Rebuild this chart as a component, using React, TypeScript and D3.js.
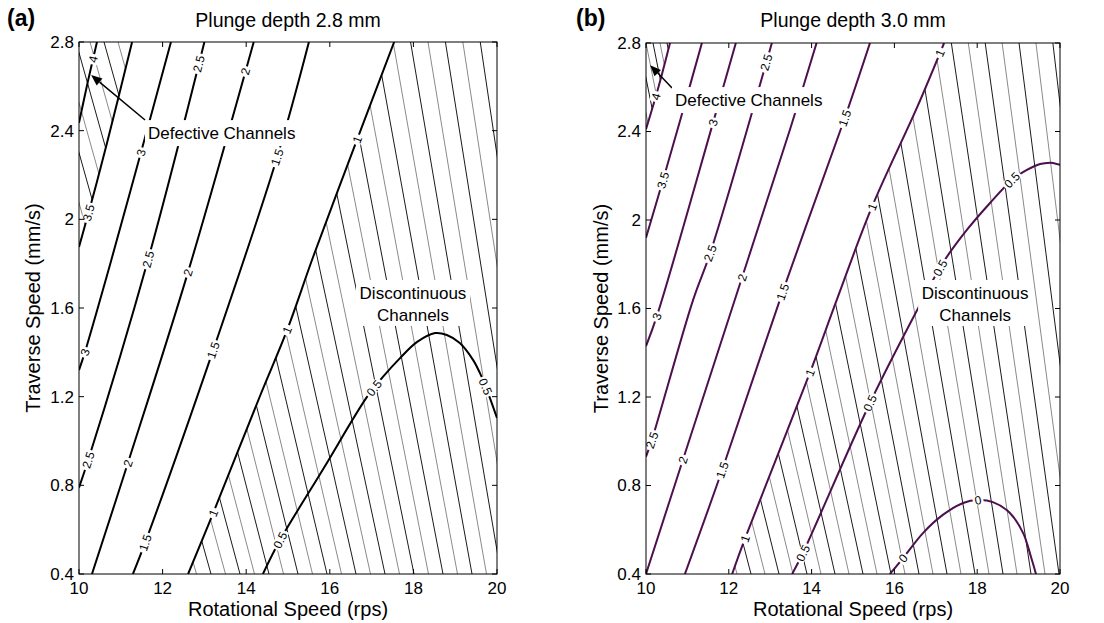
import React from "react";
import * as d3 from "d3";

type Pt = [number, number];
type Lab = [number, number, number];

// ---------- shared axis data ----------
const xTicks = [10, 12, 14, 16, 18, 20];
const xTickLabels = ["10", "12", "14", "16", "18", "20"];
const yTicks = [0.4, 0.8, 1.2, 1.6, 2, 2.4, 2.8];
const yTickLabels = ["0.4", "0.8", "1.2", "1.6", "2", "2.4", "2.8"];

// ---------- (a) Plunge depth 2.8 mm : contour lines [rps, mm/s] ----------
const a_c4: Pt[] = [[10, 2.435], [10.21, 2.62], [10.43, 2.8]];
const a_c35: Pt[] = [[10, 1.875], [10.33, 2.1], [10.67, 2.344], [11.27, 2.8]];
const a_c3: Pt[] = [[10, 1.32], [10.14, 1.4], [10.74, 1.794], [11.48, 2.3], [12.2, 2.8]];
const a_c25: Pt[] = [[10, 0.79], [10.22, 0.914], [11.65, 1.817], [13.0, 2.8]];
const a_c2: Pt[] = [[10.31, 0.4], [11.17, 0.901], [12.61, 1.763], [14.18, 2.8]];
const a_c15: Pt[] = [[11.29, 0.4], [11.58, 0.54], [13.21, 1.41], [14.74, 2.28], [15.5, 2.8]];
const a_c1: Pt[] = [[12.61, 0.4], [13.21, 0.675], [14.33, 1.203], [14.98, 1.501], [15.6, 1.83], [16.65, 2.358], [17.54, 2.8]];
const a_c05: Pt[] = [[14.4, 0.4], [14.81, 0.553], [15.85, 0.876], [16.89, 1.199], [17.27, 1.289], [17.68, 1.374], [18.09, 1.447], [18.52, 1.487], [18.8, 1.478], [19.11, 1.442], [19.43, 1.365], [19.59, 1.307], [19.76, 1.23], [20, 1.104]];
const a_levels = [4, 3.5, 3, 2.5, 2, 1.5, 1, 0.5];
const a_lines = [a_c4, a_c35, a_c3, a_c25, a_c2, a_c15, a_c1, a_c05];
// contour labels [level, rps, mm/s]
const a_labels: Lab[] = [
  [4, 10.38, 2.72], [3.5, 10.22, 2.03], [3, 11.5, 2.3], [3, 10.14, 1.4],
  [2.5, 12.9, 2.7], [2.5, 11.65, 1.82], [2.5, 10.22, 0.914],
  [2, 14.02, 2.665], [2, 12.61, 1.76], [2, 11.17, 0.9],
  [1.5, 14.74, 2.28], [1.5, 13.21, 1.41], [1.5, 11.6, 0.54],
  [1, 16.65, 2.36], [1, 14.98, 1.5], [1, 13.21, 0.675],
  [0.5, 14.81, 0.553], [0.5, 17.03, 1.244], [0.5, 19.71, 1.244],
];

// ---------- (b) Plunge depth 3.0 mm ----------
const b_c4: Pt[] = [[10, 2.41], [10.3, 2.6], [10.58, 2.8]];
const b_c35: Pt[] = [[10, 1.92], [10.41, 2.18], [10.87, 2.48], [11.35, 2.8]];
const b_c3: Pt[] = [[10, 1.43], [10.27, 1.57], [11.62, 2.44], [12.17, 2.8]];
const b_c25: Pt[] = [[10, 0.93], [10.14, 1.005], [11.14, 1.64], [11.55, 1.85], [13.04, 2.8]];
const b_c2: Pt[] = [[10, 0.4], [10.89, 0.915], [12.32, 1.74], [13.48, 2.41], [14.12, 2.8]];
const b_c15: Pt[] = [[10.94, 0.4], [11.84, 0.87], [13.3, 1.675], [14.8, 2.46], [15.41, 2.8]];
const b_c1: Pt[] = [[12.08, 0.4], [12.39, 0.56], [13.96, 1.31], [14.61, 1.64], [15.46, 2.06], [16.55, 2.51], [17.2, 2.8]];
const b_c05: Pt[] = [[13.53, 0.4], [13.79, 0.495], [15.41, 1.173], [16.57, 1.6], [17.17, 1.806], [17.75, 1.955], [18.31, 2.077], [18.84, 2.181], [19.2, 2.226], [19.52, 2.253], [19.69, 2.258], [19.83, 2.258], [20, 2.249]];
const b_c0: Pt[] = [[15.89, 0.4], [16.21, 0.472], [16.69, 0.585], [17.17, 0.667], [17.66, 0.721], [18.02, 0.734], [18.38, 0.725], [18.79, 0.676], [19.11, 0.585], [19.3, 0.477], [19.42, 0.4]];
const b_levels = [4, 3.5, 3, 2.5, 2, 1.5, 1, 0.5, 0];
const b_lines = [b_c4, b_c35, b_c3, b_c25, b_c2, b_c15, b_c1, b_c05, b_c0];
const b_labels: Lab[] = [
  [4, 10.27, 2.556], [3.5, 10.41, 2.18], [3, 11.62, 2.44], [3, 10.17, 1.57],
  [2.5, 12.95, 2.71], [2.5, 11.55, 1.85], [2.5, 10.14, 1.005],
  [2, 12.32, 1.74], [2, 10.89, 0.915],
  [1.5, 14.8, 2.46], [1.5, 13.3, 1.675], [1.5, 11.84, 0.87],
  [1, 17.1, 2.755], [1, 15.46, 2.06], [1, 13.96, 1.31], [1, 12.39, 0.56],
  [0.5, 17.2, 1.774], [0.5, 18.84, 2.18], [0.5, 15.41, 1.173], [0.5, 13.79, 0.495],
  [0, 16.21, 0.472], [0, 18.02, 0.734],
];

const FONT = "'Liberation Sans', Arial, Helvetica, sans-serif";

function textW(s: string, fs: number) {
  let w = 0;
  for (const c of s) w += (c === "." ? 0.278 : 0.556) * fs;
  return w;
}

function snap(pts: Pt[], lx: number, ly: number) {
  let best = { d: Infinity, x: lx, y: ly, ang: 0 };
  for (let i = 0; i < pts.length - 1; i++) {
    const [ax, ay] = pts[i];
    const [bx, by] = pts[i + 1];
    const dx = bx - ax, dy = by - ay;
    const L2 = dx * dx + dy * dy || 1;
    let t = ((lx - ax) * dx + (ly - ay) * dy) / L2;
    t = Math.max(0, Math.min(1, t));
    const px = ax + t * dx, py = ay + t * dy;
    const d = Math.hypot(px - lx, py - ly);
    if (d < best.d) {
      let ang = (Math.atan2(dy, dx) * 180) / Math.PI;
      if (ang > 90) ang -= 180;
      if (ang < -90) ang += 180;
      best = { d, x: px, y: py, ang };
    }
  }
  return best;
}

// hatch family: lines anchored on top ("t") or bottom ("b") edge
type Hatch = { ref: "t" | "b"; x0: number; step: number; slope: number; dSlope: number };

type PanelProps = {
  id: string;
  px: [number, number];
  py: [number, number];
  title: string;
  tag: string;
  tagX: number;
  lines: Pt[][];
  levels: number[];
  labels: Lab[];
  color: string;
  defectLine: Pt[];
  discLine: Pt[];
  defHatch: Hatch;
  discHatch: Hatch;
  yLabelX: number;
  arrowTail: Pt;
  arrowHead: Pt;
  defText: Pt;
  discText: Pt;
};

function hatchLines(hf: Hatch, x0: number, x1: number, yt: number, yb: number) {
  const h = yb - yt;
  const out: { xt: number; xb: number; k: number }[] = [];
  for (let k = -40; k <= 60; k++) {
    const s = hf.slope - hf.dSlope * k;
    const xr = hf.x0 + k * hf.step;
    const xt = hf.ref === "t" ? xr : xr - s * h;
    const xb = hf.ref === "t" ? xr + s * h : xr;
    if (Math.max(xt, xb) < x0 - 2 || Math.min(xt, xb) > x1 + 2) continue;
    out.push({ xt, xb, k });
  }
  return out;
}

function Panel(p: PanelProps) {
  const xs = d3.scaleLinear().domain([10, 20]).range(p.px);
  const ys = d3.scaleLinear().domain([0.4, 2.8]).range(p.py);
  const [x0, x1] = p.px;
  const [yb, yt] = p.py;
  const gen = d3
    .line<Pt>()
    .x((d) => xs(d[0]))
    .y((d) => ys(d[1]))
    .curve(d3.curveCatmullRom.alpha(0.5));

  const defPath = gen(p.defectLine) + `L${xs(10)},${ys(2.8)}Z`;
  const discPath = gen(p.discLine) + `L${xs(20)},${ys(2.8)}L${xs(20)},${ys(0.4)}Z`;

  const defH = hatchLines(p.defHatch, x0, x1, yt, yb);
  const discH = hatchLines(p.discHatch, x0, x1, yt, yb);

  const fmt = (v: number) => String(v);
  const labFs = 12;

  const tailX = xs(p.arrowTail[0]), tailY = ys(p.arrowTail[1]);
  const headX = xs(p.arrowHead[0]), headY = ys(p.arrowHead[1]);
  const aAng = Math.atan2(headY - tailY, headX - tailX);
  const aLen = 11, aW = 4.5;
  const bx = headX - aLen * Math.cos(aAng), by = headY - aLen * Math.sin(aAng);
  const head = `M${headX},${headY}L${bx + aW * Math.sin(aAng)},${by - aW * Math.cos(aAng)}L${bx - aW * Math.sin(aAng)},${by + aW * Math.cos(aAng)}Z`;

  const tfs = 17;
  const defStr = "Defective Channels";
  const defW = 149;
  const dX = xs(p.defText[0]), dY = ys(p.defText[1]);
  const cX = xs(p.discText[0]), cY = ys(p.discText[1]);
  const discW = 108;

  const hatchStroke = (k: number) => (Math.abs(k) % 2 ? "#8a8a8a" : "#1a1a1a");

  return (
    <g fontFamily={FONT}>
      <defs>
        <clipPath id={`${p.id}-plot`}>
          <rect x={x0} y={yt} width={x1 - x0} height={yb - yt} />
        </clipPath>
        <clipPath id={`${p.id}-def`}>
          <path d={defPath} />
        </clipPath>
        <clipPath id={`${p.id}-disc`}>
          <path d={discPath} />
        </clipPath>
      </defs>
      <rect x={x0} y={yt} width={x1 - x0} height={yb - yt} fill="#fff" />
      <g clipPath={`url(#${p.id}-plot)`}>
        <g clipPath={`url(#${p.id}-def)`}>
          {defH.map((l) => (
            <line key={l.k} x1={l.xb} y1={yb} x2={l.xt} y2={yt} stroke={hatchStroke(l.k)} strokeWidth={1} />
          ))}
        </g>
        <g clipPath={`url(#${p.id}-disc)`}>
          {discH.map((l) => (
            <line key={l.k} x1={l.xb} y1={yb} x2={l.xt} y2={yt} stroke={hatchStroke(l.k)} strokeWidth={1} />
          ))}
        </g>
        {p.lines.map((pts, i) => (
          <path key={i} d={gen(pts) || ""} fill="none" stroke={p.color} strokeWidth={2} />
        ))}
        {p.labels.map((lb, i) => {
          const li = p.levels.indexOf(lb[0]);
          const pix = p.lines[li].map((d) => [xs(d[0]), ys(d[1])] as Pt);
          const s = snap(pix, xs(lb[1]), ys(lb[2]));
          const str = fmt(lb[0]);
          const w = textW(str, labFs) + 4;
          return (
            <g key={i} transform={`translate(${s.x},${s.y}) rotate(${s.ang})`}>
              <rect x={-w / 2} y={-5} width={w} height={10} fill="#fff" />
              <text textAnchor="middle" dy="0.36em" fontSize={labFs} fill="#000">
                {str}
              </text>
            </g>
          );
        })}
      </g>
      {/* annotations */}
      <line x1={tailX} y1={tailY} x2={bx} y2={by} stroke="#000" strokeWidth={1.5} />
      <path d={head} fill="#000" />
      <rect x={dX - 3} y={dY - 13} width={defW + 6} height={26} fill="#fff" />
      <text x={dX} y={dY} dy="0.35em" fontSize={tfs} fill="#000">
        {defStr}
      </text>
      <rect x={cX - discW / 2 - 3} y={cY - 13} width={discW + 6} height={46} fill="#fff" />
      <text x={cX} y={cY} dy="0.35em" fontSize={tfs} textAnchor="middle" fill="#000">
        Discontinuous
      </text>
      <text x={cX} y={cY + 22} dy="0.35em" fontSize={tfs} textAnchor="middle" fill="#000">
        Channels
      </text>
      {/* axes box */}
      <rect x={x0} y={yt} width={x1 - x0} height={yb - yt} fill="none" stroke="#000" strokeWidth={1} />
      {xTicks.map((t, i) => (
        <g key={`xt${i}`}>
          <line x1={xs(t)} x2={xs(t)} y1={yb} y2={yb - 5} stroke="#000" />
          <line x1={xs(t)} x2={xs(t)} y1={yt} y2={yt + 5} stroke="#000" />
          <text x={xs(t)} y={yb + 20} fontSize={17} textAnchor="middle" fill="#000">
            {xTickLabels[i]}
          </text>
        </g>
      ))}
      {yTicks.map((t, i) => (
        <g key={`yt${i}`}>
          <line x1={x0} x2={x0 + 5} y1={ys(t)} y2={ys(t)} stroke="#000" />
          <line x1={x1} x2={x1 - 5} y1={ys(t)} y2={ys(t)} stroke="#000" />
          <text x={x0 - 5} y={ys(t)} dy="0.35em" fontSize={17} textAnchor="end" fill="#000">
            {yTickLabels[i]}
          </text>
        </g>
      ))}
      <text x={(x0 + x1) / 2} y={616} fontSize={20} textAnchor="middle" fill="#000">
        Rotational Speed (rps)
      </text>
      <text
        transform={`translate(${p.yLabelX},${(yt + yb) / 2}) rotate(-90)`}
        dy="0.35em"
        fontSize={20}
        textAnchor="middle"
        fill="#000"
      >
        Traverse Speed (mm/s)
      </text>
      <text x={(x0 + x1) / 2} y={27} fontSize={19.5} textAnchor="middle" fill="#000">
        {p.title}
      </text>
      <text x={p.tagX} y={26} fontSize={23} fontWeight="bold" fill="#000">
        {p.tag}
      </text>
    </g>
  );
}

export default function App() {
  return (
    <div style={{ position: "absolute", left: 0, top: 0 }}>
      <svg width={1104} height={623} viewBox="0 0 1104 623" style={{ display: "block", background: "#fff" }}>
        <Panel
          id="pa"
          px={[79, 497]}
          py={[574, 42]}
          title="Plunge depth 2.8 mm"
          tag="(a)"
          tagX={7}
          lines={a_lines}
          levels={a_levels}
          labels={a_labels}
          color="#000"
          defectLine={a_c35}
          discLine={a_c1}
          defHatch={{ ref: "t", x0: 76, step: 14, slope: 0.28, dSlope: 0 }}
          discHatch={{ ref: "b", x0: 211, step: 14.5, slope: 0.28, dSlope: 0.0055 }}
          yLabelX={33}
          arrowTail={[11.58, 2.448]}
          arrowHead={[10.29, 2.651]}
          defText={[11.65, 2.389]}
          discText={[17.99, 1.668]}
        />
        <Panel
          id="pb"
          px={[646, 1060]}
          py={[574, 43]}
          title="Plunge depth 3.0 mm"
          tag="(b)"
          tagX={576}
          lines={b_lines}
          levels={b_levels}
          labels={b_labels}
          color="#4d0f4d"
          defectLine={b_c4}
          discLine={b_c1}
          defHatch={{ ref: "t", x0: 653, step: 7, slope: 0.2, dSlope: 0 }}
          discHatch={{ ref: "b", x0: 751, step: 14, slope: 0.26, dSlope: 0.0055 }}
          yLabelX={601}
          arrowTail={[10.63, 2.597]}
          arrowHead={[10.1, 2.7]}
          defText={[10.7, 2.542]}
          discText={[17.95, 1.67]}
        />
      </svg>
    </div>
  );
}
